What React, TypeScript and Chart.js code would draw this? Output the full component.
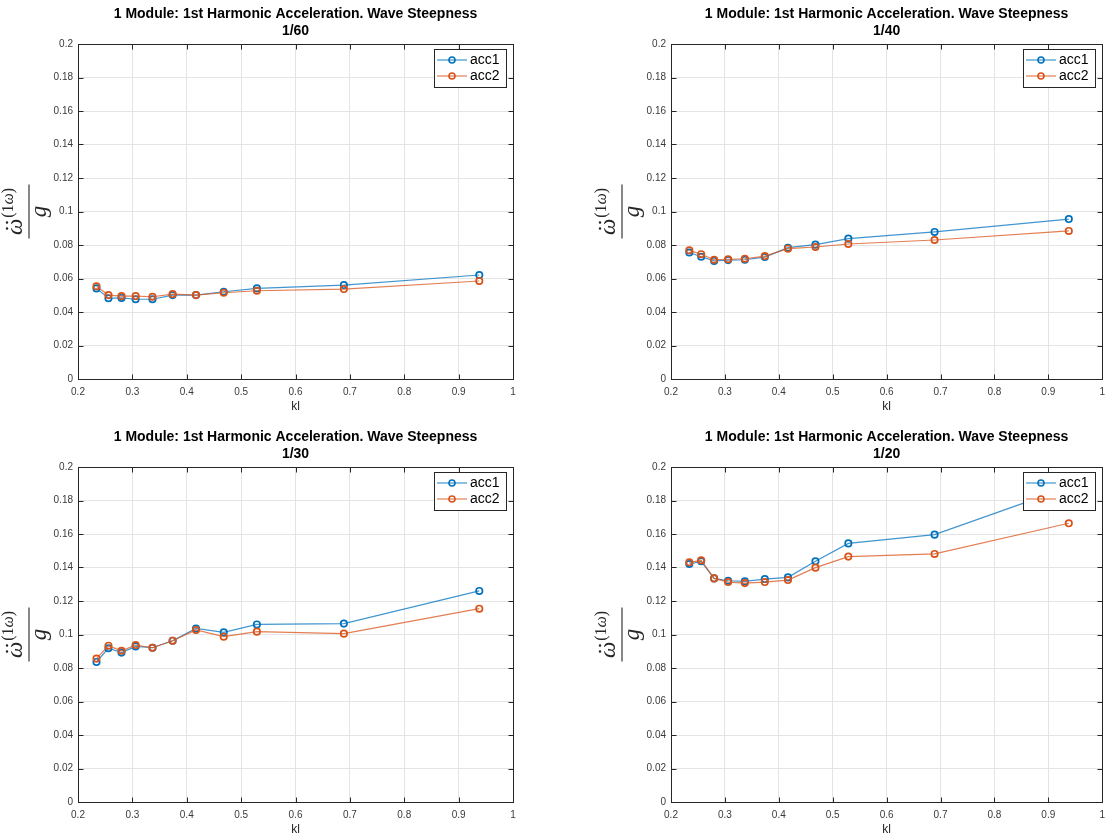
import React, { useEffect, useRef } from "react";
import { Chart, registerables } from "chart.js";

Chart.register(...registerables);

// Dimensionless wave number at each test point
const kl = [0.234, 0.256, 0.28, 0.306, 0.337, 0.374, 0.417, 0.468, 0.529, 0.689, 0.938];

// First-harmonic acceleration normalised by g, per wave steepness
const steep60Acc1 = [0.0541, 0.0482, 0.0484, 0.0476, 0.0476, 0.0501, 0.0501, 0.0521, 0.0541, 0.0561, 0.0621];
const steep60Acc2 = [0.0553, 0.0501, 0.0495, 0.0495, 0.0491, 0.0507, 0.0501, 0.0515, 0.0527, 0.0537, 0.0585];

const steep40Acc1 = [0.0755, 0.073, 0.0705, 0.071, 0.0712, 0.0728, 0.0784, 0.0802, 0.0838, 0.0878, 0.0955];
const steep40Acc2 = [0.0768, 0.0745, 0.0712, 0.0715, 0.0718, 0.0734, 0.0778, 0.0788, 0.0806, 0.083, 0.0884];

const steep30Acc1 = [0.0836, 0.0918, 0.0892, 0.0929, 0.0921, 0.0963, 0.1036, 0.1013, 0.106, 0.1065, 0.126];
const steep30Acc2 = [0.0856, 0.0933, 0.0903, 0.0937, 0.0921, 0.0963, 0.1027, 0.0987, 0.1017, 0.1005, 0.1154];

const steep20Acc1 = [0.1421, 0.1437, 0.1335, 0.1321, 0.1317, 0.1331, 0.1341, 0.1437, 0.1544, 0.1596, 0.188];
const steep20Acc2 = [0.1431, 0.1443, 0.1335, 0.1313, 0.1307, 0.1313, 0.1325, 0.1399, 0.1465, 0.1481, 0.1664];

// Axis ticks
const xTickValues = [0.2, 0.3, 0.4, 0.5, 0.6, 0.7, 0.8, 0.9, 1];
const xTickLabels = ["0.2", "0.3", "0.4", "0.5", "0.6", "0.7", "0.8", "0.9", "1"];
const yTickValues = [0, 0.02, 0.04, 0.06, 0.08, 0.1, 0.12, 0.14, 0.16, 0.18, 0.2];
const yTickLabels = ["0", "0.02", "0.04", "0.06", "0.08", "0.1", "0.12", "0.14", "0.16", "0.18", "0.2"];

const seriesNames = ["acc1", "acc2"];
const titleMain = "1 Module: 1st Harmonic Acceleration. Wave Steepness";
const xAxisTitle = "kl";

const FONT = '"Liberation Sans", Arial, Helvetica, sans-serif';
const MATH_FONT = '"Liberation Serif", "DejaVu Serif", serif';
const AXIS_COLOR = "#262626";
const TICK_TEXT = "#3a3a3a";
const GRID_COLOR = "#e4e4e4";
const BLUE = "#0072BD";
const ORANGE = "#D95319";
const BLUE_LINE = "rgba(0,114,189,0.75)";
const ORANGE_LINE = "rgba(217,83,25,0.75)";

type Rect = { left: number; top: number; right: number; bottom: number };

type PanelSpec = {
  subtitle: string;
  acc1: number[];
  acc2: number[];
  box: Rect; // canvas placement on the page
  area: Rect; // plot area on the page
};

const panels: PanelSpec[] = [
  {
    subtitle: "1/60",
    acc1: steep60Acc1,
    acc2: steep60Acc2,
    box: { left: 0, top: 0, right: 556, bottom: 418 },
    area: { left: 78, top: 44, right: 513, bottom: 379 },
  },
  {
    subtitle: "1/40",
    acc1: steep40Acc1,
    acc2: steep40Acc2,
    box: { left: 556, top: 0, right: 1112, bottom: 418 },
    area: { left: 671, top: 44, right: 1106, bottom: 379 },
  },
  {
    subtitle: "1/30",
    acc1: steep30Acc1,
    acc2: steep30Acc2,
    box: { left: 0, top: 418, right: 556, bottom: 837 },
    area: { left: 78, top: 467, right: 513, bottom: 802 },
  },
  {
    subtitle: "1/20",
    acc1: steep20Acc1,
    acc2: steep20Acc2,
    box: { left: 556, top: 418, right: 1112, bottom: 837 },
    area: { left: 671, top: 467, right: 1106, bottom: 802 },
  },
];

// Draws the MATLAB-style frame, inward ticks, in-axes legend, titles and axis labels
function makeDecor(subtitle: string) {
  return {
    id: "matlabDecor",
    afterDatasetsDraw(chart: any) {
      const { ctx, chartArea: a, scales } = chart;
      const xs = scales.x;
      const ys = scales.y;
      ctx.save();

      // axes box
      ctx.strokeStyle = AXIS_COLOR;
      ctx.lineWidth = 1;
      const L = Math.round(a.left) + 0.5;
      const T = Math.round(a.top) + 0.5;
      const R = Math.round(a.right) + 0.5;
      const B = Math.round(a.bottom) + 0.5;
      ctx.strokeRect(L, T, R - L, B - T);

      // inward ticks on all four sides
      const tl = 5;
      ctx.beginPath();
      xTickValues.forEach((v) => {
        const px = Math.round(xs.getPixelForValue(v)) + 0.5;
        ctx.moveTo(px, B);
        ctx.lineTo(px, B - tl);
        ctx.moveTo(px, T);
        ctx.lineTo(px, T + tl);
      });
      yTickValues.forEach((v) => {
        const py = Math.round(ys.getPixelForValue(v)) + 0.5;
        ctx.moveTo(L, py);
        ctx.lineTo(L + tl, py);
        ctx.moveTo(R, py);
        ctx.lineTo(R - tl, py);
      });
      ctx.stroke();

      // legend box in the upper-right corner of the axes
      const lw = 72;
      const lh = 38;
      const lx = Math.round(a.right) - 7 - lw;
      const ly = Math.round(a.top) + 5;
      ctx.fillStyle = "#ffffff";
      ctx.fillRect(lx, ly, lw, lh);
      ctx.strokeStyle = AXIS_COLOR;
      ctx.lineWidth = 1;
      ctx.strokeRect(lx + 0.5, ly + 0.5, lw, lh);
      const colors = [BLUE, ORANGE];
      const lineColors = [BLUE_LINE, ORANGE_LINE];
      seriesNames.forEach((name, i) => {
        const cy = ly + 11 + i * 16;
        ctx.strokeStyle = lineColors[i];
        ctx.lineWidth = 1.2;
        ctx.beginPath();
        ctx.moveTo(lx + 3, cy);
        ctx.lineTo(lx + 33, cy);
        ctx.stroke();
        ctx.strokeStyle = colors[i];
        ctx.lineWidth = 1.6;
        ctx.beginPath();
        ctx.arc(lx + 18, cy, 3, 0, Math.PI * 2);
        ctx.stroke();
        ctx.fillStyle = "#000000";
        ctx.font = `14px ${FONT}`;
        ctx.textAlign = "left";
        ctx.textBaseline = "middle";
        ctx.fillText(name, lx + 36, cy + 0.5);
      });
      ctx.restore();
    },
    afterDraw(chart: any) {
      const { ctx, chartArea: a } = chart;
      const cx = (a.left + a.right) / 2;
      ctx.save();

      // two-line bold title
      ctx.fillStyle = "#000000";
      ctx.font = `bold 14px ${FONT}`;
      ctx.textAlign = "center";
      ctx.textBaseline = "middle";
      ctx.fillText(titleMain, cx, a.top - 29.5);
      ctx.fillText(subtitle, cx, a.top - 12.5);

      // x-axis label
      ctx.fillStyle = AXIS_COLOR;
      ctx.font = `12px ${FONT}`;
      ctx.fillText(xAxisTitle, cx, a.bottom + 27.5);

      // y-axis label: fraction  (omega double-dot)^(1 omega) / g, rotated
      const ox = a.left - 49;
      const oy = (a.top + a.bottom) / 2;
      ctx.translate(ox, oy);
      ctx.rotate(-Math.PI / 2);
      ctx.fillStyle = AXIS_COLOR;
      ctx.strokeStyle = AXIS_COLOR;
      ctx.lineWidth = 1.1;
      ctx.beginPath();
      ctx.moveTo(-27, 0);
      ctx.lineTo(27, 0);
      ctx.stroke();

      const bigItalic = `italic 23px ${MATH_FONT}`;
      const supUp = `16px ${MATH_FONT}`;
      const supItalic = `italic 16px ${MATH_FONT}`;
      ctx.textBaseline = "alphabetic";
      ctx.textAlign = "left";

      ctx.font = bigItalic;
      const wOmega = ctx.measureText("ω").width;
      ctx.font = supUp;
      const wOpen = ctx.measureText("(1").width;
      const wClose = ctx.measureText(")").width;
      ctx.font = supItalic;
      const wSupOmega = ctx.measureText("ω").width;
      const total = wOmega + 1 + wOpen + wSupOmega + wClose;
      let x = -total / 2;
      const base = -7;
      const supBase = base - 9;

      ctx.font = bigItalic;
      ctx.fillText("ω", x, base);
      // double dot accent
      const dotY = base - 15;
      const dcx = x + wOmega / 2 + 1.5;
      ctx.beginPath();
      ctx.arc(dcx - 3, dotY, 1.25, 0, Math.PI * 2);
      ctx.arc(dcx + 3, dotY, 1.25, 0, Math.PI * 2);
      ctx.fill();
      x += wOmega + 1;

      ctx.font = supUp;
      ctx.fillText("(1", x, supBase);
      x += wOpen;
      ctx.font = supItalic;
      ctx.fillText("ω", x, supBase);
      x += wSupOmega;
      ctx.font = supUp;
      ctx.fillText(")", x, supBase);

      ctx.font = bigItalic;
      ctx.textAlign = "center";
      ctx.fillText("g", 0, 17);

      ctx.restore();
    },
  };
}

function Panel({ spec }: { spec: PanelSpec }) {
  const ref = useRef<HTMLCanvasElement | null>(null);
  const width = spec.box.right - spec.box.left;
  const height = spec.box.bottom - spec.box.top;

  useEffect(() => {
    if (!ref.current) return;
    const { box, area } = spec;
    const toPoints = (ys: number[]) => kl.map((x, i) => ({ x, y: ys[i] }));

    const chart = new Chart(ref.current, {
      type: "line",
      data: {
        datasets: [
          {
            label: seriesNames[0],
            data: toPoints(spec.acc1),
            borderColor: BLUE_LINE,
            borderWidth: 1.2,
            pointRadius: 3.2,
            pointBorderWidth: 1.7,
            pointBorderColor: BLUE,
            pointBackgroundColor: "rgba(0,0,0,0)",
            tension: 0,
            order: 1,
          },
          {
            label: seriesNames[1],
            data: toPoints(spec.acc2),
            borderColor: ORANGE_LINE,
            borderWidth: 1.2,
            pointRadius: 3.2,
            pointBorderWidth: 1.7,
            pointBorderColor: ORANGE,
            pointBackgroundColor: "rgba(0,0,0,0)",
            tension: 0,
            order: 0,
          },
        ],
      },
      options: {
        responsive: false,
        animation: false,
        devicePixelRatio: 1,
        events: [],
        layout: {
          padding: {
            left: 0,
            top: area.top - box.top,
            right: box.right - area.right,
            bottom: 0,
          },
        },
        plugins: {
          legend: { display: false },
          tooltip: { enabled: false },
          title: { display: false },
        },
        scales: {
          x: {
            type: "linear",
            min: 0.2,
            max: 1,
            afterBuildTicks: (scale: any) => {
              scale.ticks = xTickValues.map((value) => ({ value }));
            },
            afterFit: (scale: any) => {
              scale.height = box.bottom - area.bottom;
            },
            grid: { color: GRID_COLOR, lineWidth: 1, drawTicks: false },
            border: { display: false },
            ticks: {
              color: TICK_TEXT,
              font: { family: FONT, size: 10 },
              padding: 7,
              maxRotation: 0,
              autoSkip: false,
              callback: (_v: any, i: number) => xTickLabels[i],
            },
          },
          y: {
            type: "linear",
            min: 0,
            max: 0.2,
            afterBuildTicks: (scale: any) => {
              scale.ticks = yTickValues.map((value) => ({ value }));
            },
            afterFit: (scale: any) => {
              scale.width = area.left - box.left;
            },
            grid: { color: GRID_COLOR, lineWidth: 1, drawTicks: false },
            border: { display: false },
            ticks: {
              color: TICK_TEXT,
              font: { family: FONT, size: 10 },
              padding: 5,
              autoSkip: false,
              callback: (_v: any, i: number) => yTickLabels[i],
            },
          },
        },
      },
      plugins: [makeDecor(spec.subtitle)],
    } as any);

    return () => chart.destroy();
  }, [spec]);

  return (
    <div
      style={{
        position: "absolute",
        left: spec.box.left,
        top: spec.box.top,
        width,
        height,
      }}
    >
      <canvas ref={ref} width={width} height={height} style={{ display: "block", width, height }} />
    </div>
  );
}

export default function App() {
  return (
    <div
      style={{
        position: "absolute",
        left: 0,
        top: 0,
        width: 1112,
        height: 837,
        background: "#ffffff",
        overflow: "hidden",
      }}
    >
      {panels.map((p) => (
        <Panel key={p.subtitle} spec={p} />
      ))}
    </div>
  );
}
